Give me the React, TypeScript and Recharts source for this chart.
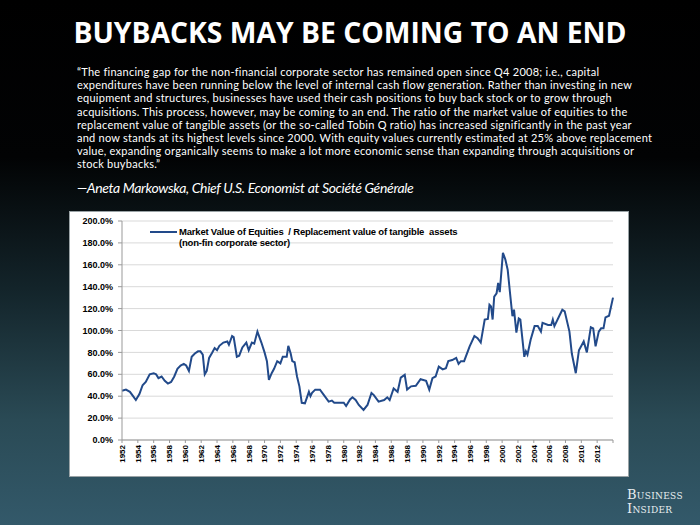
import { CartesianGrid, Line, LineChart, XAxis, YAxis } from 'recharts';

// Tobin Q: market value of equities / replacement value of tangible assets (%)
const years = [
  1952.0, 1952.5, 1953.0, 1953.4, 1953.75, 1954.2, 1954.6, 1955.0, 1955.5, 1956.0,
  1956.3, 1956.6, 1957.0, 1957.4, 1957.8, 1958.2, 1958.6, 1959.0, 1959.4, 1959.8,
  1960.1, 1960.45, 1960.8, 1961.2, 1961.6, 1961.9, 1962.2, 1962.45, 1962.7, 1963.0,
  1963.4, 1963.7, 1964.0, 1964.3, 1964.8, 1965.3, 1965.5, 1965.9, 1966.1, 1966.5,
  1966.8, 1967.2, 1967.7, 1968.0, 1968.4, 1968.7, 1969.1, 1969.6, 1970.0, 1970.3,
  1970.55, 1970.9, 1971.2, 1971.6, 1972.0, 1972.3, 1972.8, 1973.0, 1973.3, 1973.5,
  1973.8, 1974.1, 1974.4, 1974.7, 1975.1, 1975.6, 1975.8, 1976.0, 1976.4, 1977.0,
  1977.5, 1978.1, 1978.5, 1978.8, 1979.5, 1980.0, 1980.3, 1980.8, 1981.1, 1981.5,
  1981.9, 1982.5, 1983.0, 1983.5, 1983.8, 1984.4, 1985.1, 1985.5, 1985.8, 1986.3,
  1986.8, 1987.2, 1987.7, 1988.0, 1988.5, 1989.1, 1989.7, 1990.4, 1990.8, 1991.2,
  1991.6, 1992.0, 1992.5, 1992.9, 1993.2, 1993.7, 1994.2, 1994.5, 1994.8, 1995.2,
  1995.9, 1996.5, 1996.9, 1997.3, 1997.8, 1998.2, 1998.4, 1998.6, 1998.8, 1999.0,
  1999.3, 1999.5, 1999.7, 2000.1, 2000.4, 2000.7, 2001.0, 2001.3, 2001.5, 2001.8,
  2002.1, 2002.3, 2002.8, 2003.0, 2003.2, 2003.6, 2004.1, 2004.5, 2004.9, 2005.1,
  2005.8, 2006.2, 2006.4, 2006.6, 2007.2, 2007.6, 2007.9, 2008.5, 2008.8, 2009.3,
  2009.7, 2010.3, 2010.7, 2011.2, 2011.5, 2011.8, 2012.2, 2012.5, 2012.8, 2013.05,
  2013.5, 2014.0,
];

const tobinQ = [
  45, 46, 44, 40, 36.5, 42, 50, 53, 60, 61,
  60, 56.5, 58, 54, 51.5, 53, 58, 65, 68, 69.5,
  68, 63, 76, 79, 81, 81, 78, 60, 63, 75,
  80, 84, 82, 86, 89, 90, 87, 95, 94, 76,
  77, 84.5, 89, 82, 89, 88, 99, 89, 80, 72,
  55, 61, 65, 72, 70, 76, 76, 86, 79, 72,
  71, 58, 49, 34, 33.5, 44, 40, 43, 46, 46,
  41, 35, 36, 34, 34, 34, 31, 37, 39, 36.5,
  32, 27.5, 32, 43, 41, 35, 36.5, 39, 36.5, 47,
  44, 57, 59.5, 46, 49, 49.5, 55.5, 54, 46, 56.5,
  58, 67, 64.5, 65.5, 72, 73, 75, 69.5, 72, 72,
  85.5, 95, 93, 89, 110, 110.5, 123.5, 122, 110, 131,
  134, 143.5, 135, 171, 165, 155.5, 134, 113, 119, 98,
  111, 110, 76, 81, 78, 91.5, 104, 104, 99, 107,
  105, 105, 110, 104, 113, 119, 117.5, 99, 79, 61,
  82, 90, 80, 103, 102, 85.5, 99, 102, 102, 112,
  113.5, 130,
];

const yTicks = [0, 20, 40, 60, 80, 100, 120, 140, 160, 180, 200];
const xTicks = [
  1952, 1954, 1956, 1958, 1960, 1962, 1964, 1966, 1968, 1970, 1972, 1974, 1976, 1978, 1980, 1982,
  1984, 1986, 1988, 1990, 1992, 1994, 1996, 1998, 2000, 2002, 2004, 2006, 2008, 2010, 2012, 2014,
];

const seriesName = 'Market Value of Equities  / Replacement value of tangible  assets';
const seriesNote = '(non-fin corporate sector)';

const quoteLines = [
  '\u201CThe financing gap for the non-financial corporate sector has remained open since Q4 2008; i.e., capital',
  'expenditures have been running below the level of internal cash flow generation. Rather than investing in new',
  'equipment and structures, businesses have used their cash positions to buy back stock or to grow through',
  'acquisitions. This process, however, may be coming to an end. The ratio of the market value of equities to the',
  'replacement value of tangible assets (or the so-called Tobin Q ratio) has increased significantly in the past year',
  'and now stands at its highest levels since 2000. With equity values currently estimated at 25% above replacement',
  'value, expanding organically seems to make a lot more economic sense than expanding through acquisitions or',
  'stock buybacks.\u201D',
];

const data = years.map((year, i) => ({ year, value: tobinQ[i] }));

const LINE_COLOR = '#224a8a';
const AXIS_FONT = '"Liberation Sans", Arial, sans-serif';

function YearTick({ x, y, payload }: { x?: number; y?: number; payload?: { value: number } }) {
  if (!payload || payload.value === 2014) return null;
  return (
    <text
      transform={`translate(${x},${y}) rotate(-90)`}
      textAnchor="end"
      dy="0.35em"
      fontSize={8}
      fontWeight="bold"
      fontFamily={AXIS_FONT}
      fill="#000"
    >
      {payload.value}
    </text>
  );
}

export default function App() {
  return (
    <div
      style={{
        position: 'absolute',
        left: 0,
        top: 0,
        width: 700,
        height: 525,
        overflow: 'hidden',
        background:
          'linear-gradient(180deg, #000 0%, #020304 30%, #13242a 55%, #2a4a55 80%, #33596a 100%)',
        fontFamily: 'Lato, sans-serif',
        color: '#fff',
      }}
    >
      <div
        style={{
          position: 'absolute',
          top: 14,
          left: 0,
          width: 700,
          textAlign: 'center',
          fontFamily: '"Open Sans", sans-serif',
          fontWeight: 700,
          fontSize: 28.3,
          lineHeight: '36px',
        }}
      >
        BUYBACKS MAY BE COMING TO AN END
      </div>

      <div
        style={{
          position: 'absolute',
          top: 65,
          left: 77,
          fontSize: 11,
          letterSpacing: 0.25,
          lineHeight: '13.2px',
          whiteSpace: 'pre',
        }}
      >
        {quoteLines.map((line) => (
          <div key={line}>{line}</div>
        ))}
      </div>

      <div
        style={{
          position: 'absolute',
          top: 179,
          left: 77,
          fontSize: 14,
          letterSpacing: -0.35,
          fontStyle: 'italic',
          fontWeight: 400,
        }}
      >
        —Aneta Markowska, Chief U.S. Economist at Société Générale
      </div>

      <div
        style={{
          position: 'absolute',
          left: 70,
          top: 212,
          width: 558,
          height: 264,
          background: '#fff',
          boxShadow: '0 0 0 1px #9aa3a6',
        }}
      >
        <LineChart width={558} height={264} data={data} margin={{ top: 9, right: 15, left: 0, bottom: 1 }}>
          <CartesianGrid vertical={false} stroke="#d9d9d9" />
          <XAxis
            dataKey="year"
            type="number"
            domain={[1952, 2014]}
            ticks={xTicks}
            interval={0}
            height={35}
            stroke="#999"
            tickSize={3}
            tickMargin={2}
            tick={<YearTick />}
          />
          <YAxis
            domain={[0, 200]}
            ticks={yTicks}
            interval={0}
            width={52}
            stroke="#999"
            tickSize={4}
            tickMargin={5}
            tickFormatter={(v: number) => `${v.toFixed(1)}%`}
            tick={{ fontSize: 9, fontWeight: 'bold', fill: '#000', fontFamily: AXIS_FONT }}
          />
          <Line
            type="linear"
            dataKey="value"
            stroke={LINE_COLOR}
            strokeWidth={2}
            dot={false}
            isAnimationActive={false}
          />
        </LineChart>

        <div
          style={{
            position: 'absolute',
            left: 80,
            top: 14,
            fontFamily: AXIS_FONT,
            fontWeight: 700,
            fontSize: 9.5,
            lineHeight: '11px',
            color: '#000',
            display: 'flex',
            alignItems: 'flex-start',
            letterSpacing: -0.2,
          }}
        >
          <span style={{ width: 27, height: 2, background: LINE_COLOR, marginTop: 5, marginRight: 2 }} />
          <span style={{ whiteSpace: 'pre' }}>
            {seriesName}
            <br />
            {seriesNote}
          </span>
        </div>
      </div>

      <div
        style={{
          position: 'absolute',
          left: 627,
          top: 488,
          fontFamily: '"DejaVu Serif", "Liberation Serif", serif',
          fontVariant: 'small-caps',
          fontSize: 13,
          lineHeight: '14px',
          letterSpacing: 0.3,
          color: '#e8eef0',
        }}
      >
        Business
        <br />
        Insider
      </div>
    </div>
  );
}
